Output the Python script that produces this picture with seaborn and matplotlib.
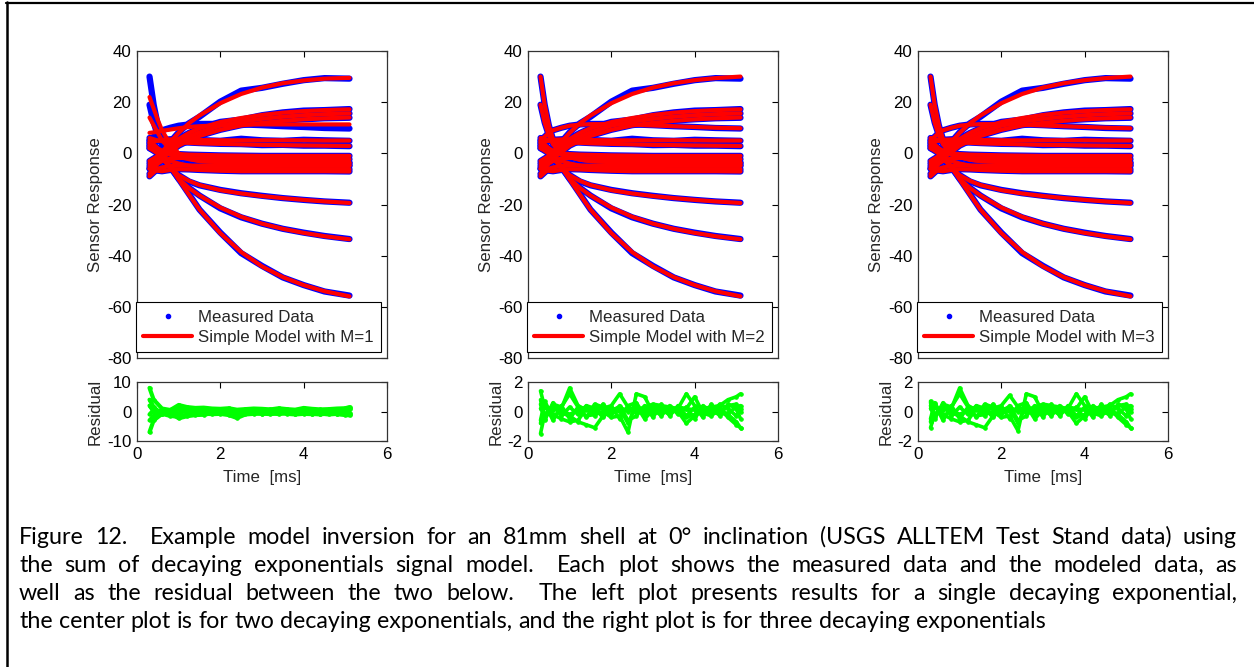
import pandas as pd
import seaborn as sns
import matplotlib.pyplot as plt
from matplotlib.lines import Line2D

# %%    Data
t_ms = [0.3, 0.4, 0.5, 0.6, 0.8, 1.0, 1.25, 1.5, 2.0, 2.5, 3.0, 3.5, 4.0, 4.5, 5.1]

measured = {
    'A': [-5, -3.5, -2, 0.5, 4.5, 8.2, 11.8, 14.3, 20.2, 24.5, 25.6, 27.2, 28.6, 29.4, 29.2],
    'B': [-3, -2, -1, 0.5, 3, 5.8, 8, 9.8, 12.3, 13.2, 14.9, 16, 16.7, 16.9, 17.3],
    'C2': [-4, -3, -2, -0.5, 2, 4.5, 6.5, 8.2, 10.8, 12.5, 13.6, 14.4, 15, 15.3, 15.6],
    'C': [-6, -5, -3.5, -2, 0.5, 3, 5, 6.8, 9.2, 11, 12, 12.8, 13.3, 13.7, 13.9],
    'D': [5, 6.5, 8, 9, 10, 10.8, 11.3, 11.5, 11.5, 11.3, 11, 10.6, 10.3, 9.9, 9.7],
    'P5': [4, 4.5, 5, 5.3, 5.5, 5.5, 5.3, 5.2, 4.9, 5.7, 5.1, 4.9, 5.3, 5.1, 4.9],
    'P3': [6, 5.5, 5, 4.8, 4.5, 4.3, 4.2, 4.0, 3.7, 3.6, 3.2, 3.3, 3.0, 3.0, 2.8],
    'N1': [2, 1.5, 1, 0.5, 0, -0.3, -0.5, -0.6, -0.8, -0.9, -1, -1, -1, -1, -1],
    'N2': [-8, -6, -4, -3, -2, -1.8, -1.8, -2, -2.1, -2.2, -2.2, -2.3, -2.3, -2.3, -2.3],
    'N3': [5, 3.5, 2, 1, -0.5, -1.5, -2.2, -2.7, -3.1, -3.3, -3.4, -3.5, -3.6, -3.6, -3.6],
    'N4': [-9, -7.5, -6, -5.5, -5, -4.8, -4.8, -4.8, -4.8, -4.9, -4.9, -4.9, -4.9, -4.9, -4.9],
    'N5': [3, 1.5, 0, -1.5, -3, -4, -4.8, -5.3, -5.8, -6, -6.1, -6.2, -6.2, -6.2, -6.2],
    'N6': [-6, -6.5, -6.8, -7, -6.5, -6.2, -6.3, -6.5, -6.8, -7, -7, -7, -7, -7, -7.1],
    'H': [30, 19, 11, 5.5, 0.5, -1.5, -2.5, -3, -3.3, -3.5, -3.6, -3.7, -3.8, -3.8, -3.8],
    'I': [19, 12, 7, 3.5, 0, -1.5, -2.5, -3, -3.5, -4, -4.2, -4.4, -4.5, -4.6, -4.6],
    'E': [3, 1.5, 0, -2, -5.5, -8.5, -11, -12.5, -14.3, -15.6, -16.6, -17.5, -18.2, -18.8, -19.3],
    'F': [4, 2.5, 1, -1, -5.5, -10, -13.5, -16.5, -21.5, -25, -27.5, -29.5, -31, -32.3, -33.5],
    'G': [2, 1, 0, -1.5, -5, -10, -16, -22, -31, -39, -44, -48.5, -51.5, -54, -55.6],
}

# model with M=2 and M=3 (the two are indistinguishable at this scale)
fit_m2 = {
    'A': [-5, -3.5, -1.5, 0.5, 4.5, 8, 11.8, 14.8, 19.6, 23.2, 25.7, 27.4, 28.6, 29.4, 30],
    'B': [-3, -2, -1, 0.5, 3, 5.6, 8, 9.8, 12.2, 13.8, 15, 15.9, 16.5, 16.9, 17.2],
    'C2': [-4, -3, -2, -0.5, 2, 4.5, 6.5, 8.2, 10.8, 12.4, 13.5, 14.3, 14.9, 15.3, 15.6],
    'C': [-6, -5, -3.5, -2, 0.5, 3, 5, 6.8, 9.2, 10.9, 11.9, 12.7, 13.3, 13.7, 14.0],
    'D': [5, 6.5, 8, 9, 10, 10.8, 11.2, 11.4, 11.4, 11.2, 10.9, 10.6, 10.3, 10, 9.8],
    'P5': [4.2, 4.6, 5, 5.3, 5.4, 5.4, 5.3, 5.2, 5.1, 5.1, 5.1, 5.1, 5.1, 5.0, 5.0],
    'P3': [6, 5.5, 5, 4.8, 4.5, 4.3, 4.1, 3.9, 3.7, 3.5, 3.3, 3.2, 3.1, 3.0, 2.9],
    'N1': [2, 1.5, 1, 0.5, 0, -0.3, -0.5, -0.6, -0.8, -0.9, -1, -1, -1, -1, -1],
    'N2': [-8, -6, -4, -3, -2, -1.8, -1.8, -2, -2.1, -2.2, -2.2, -2.3, -2.3, -2.3, -2.3],
    'N3': [5, 3.5, 2, 1, -0.5, -1.5, -2.2, -2.7, -3.1, -3.3, -3.4, -3.5, -3.6, -3.6, -3.6],
    'N4': [-9, -7.5, -6, -5.5, -5, -4.8, -4.8, -4.8, -4.8, -4.9, -4.9, -4.9, -4.9, -4.9, -4.9],
    'N5': [3, 1.5, 0, -1.5, -3, -4, -4.8, -5.3, -5.8, -6, -6.1, -6.2, -6.2, -6.2, -6.2],
    'N6': [-6, -6.5, -6.8, -7, -6.5, -6.2, -6.3, -6.5, -6.8, -7, -7, -7, -7, -7, -7.1],
    'H': [30, 19, 11, 5.5, 0.5, -1.5, -2.5, -3, -3.3, -3.5, -3.6, -3.7, -3.8, -3.8, -3.8],
    'I': [19, 12, 7, 3.5, 0, -1.5, -2.5, -3, -3.5, -4, -4.2, -4.4, -4.5, -4.6, -4.6],
    'E': [3, 1.5, 0, -2, -5.5, -8.6, -10.8, -12.4, -14.4, -15.7, -16.7, -17.5, -18.2, -18.8, -19.4],
    'F': [4, 2.5, 1, -1, -5.5, -10, -13.6, -16.5, -21.2, -24.8, -27.5, -29.5, -31.1, -32.4, -33.6],
    'G': [2, 1, 0, -1.5, -5, -10.2, -16.2, -22, -31.2, -38.6, -44.2, -48.4, -51.5, -53.9, -55.9],
}

# curves where the single-exponential model (M=1) visibly departs from M=2
fit_m1_changes = {
    'A': [-5, -3.5, -1.5, 0.5, 4.5, 8, 11.8, 14.8, 19.6, 23.2, 25.7, 27.4, 28.5, 29.2, 29.5],
    'H': [22, 17.5, 13, 9, 3.5, 0, -2, -3, -3.4, -3.5, -3.6, -3.7, -3.8, -3.8, -3.8],
    'I': [14, 11, 8, 5, 1.5, -1, -2.3, -3, -3.5, -4, -4.2, -4.4, -4.5, -4.6, -4.6],
    'D': [8, 8.2, 8.5, 8.8, 9.3, 9.8, 10.3, 10.6, 11, 11.2, 11.3, 11.3, 11.3, 11.3, 11.3],
}

t_res = [0.3, 0.4, 0.6, 0.8, 1.0, 1.2, 1.4, 1.6, 1.8, 2.0, 2.2, 2.4, 2.6,
         2.8, 3.0, 3.2, 3.4, 3.6, 3.8, 4.0, 4.2, 4.4, 4.6, 4.8, 5.0, 5.1]

res_m1 = [
    [8, 4, 1, 0.5, 1.5, 1, 0.8, 0.6, 0.4, 0.5, 0.3, 0.2, 0.5, 0.4, 0.3, 0.6, 0.4, 0.3, 0.5, 0.6, 0.3, 0.2, 0.4, 0.5, 0.8, 1.2],
    [-7, -3, -0.8, -1.5, -1.8, -1, -0.8, -0.7, -0.9, -0.8, -1.2, -2.2, -1, -0.8, -0.7, -0.9, -0.6, -0.8, -1, -0.8, -0.9, -0.7, -1, -0.8, -0.9, -1],
    [4, 1.5, -1, 0.5, 2.2, 1.5, 1.2, 1.3, 1.0, 0.9, 1.1, 0.6, 0.8, 1.0, 0.9, 0.7, 1.1, 0.8, 0.6, 1.2, 0.9, 0.7, 0.8, 1.0, 1.1, 1.5],
    [-3, -1.5, 0.5, -0.5, -2.3, -1.6, -1.2, -1.1, -0.6, -0.5, -0.8, -1.5, -0.5, -0.4, -0.8, -0.5, -0.9, -0.3, -0.7, -0.5, -0.8, -1.0, -0.6, -0.9, -1.2, -1.3],
    [2, 0, 0.3, 0.2, 0.8, 0.1, -0.3, 0.2, 0.3, -0.2, 0.0, -1, 0.2, -0.1, 0.3, 0.1, -0.2, 0.2, 0.0, -0.3, 0.3, 0.1, -0.2, 0.2, 0.4, 0.8],
    [-1, 0.5, -0.3, -0.2, -0.6, 0.3, 0.4, -0.3, 0.1, 0.3, -0.4, -0.5, -0.3, 0.4, -0.2, 0.4, 0.3, -0.4, 0.2, 0.1, -0.3, 0.4, 0.3, -0.3, -0.4, -0.5],
]

res_m2 = [
    [1.4, 0.3, 0.1, 0.2, 1.6, 0.4, 0.1, 0.0, -0.1, 0.1, 0.3, 0.0, 0.2, 0.1, 0.3, 0.2, 0.0, 0.1, 0.2, 0.1, 0.0, -0.1, 0.1, -0.2, -0.7, -1.1],
    [-1.5, -0.2, 0.4, -0.1, -0.3, -0.7, -0.9, -1.1, -0.3, 0.1, 0.0, 0.2, -0.1, 0.0, -0.2, 0.1, 0.2, 0.0, -0.8, -0.3, 0.1, 0.0, -0.2, -0.1, 0.3, 0.4],
    [0.8, -0.5, 0.5, 0.3, 1.2, 0.3, 0.2, 0.3, 0.2, 0.4, 1.2, 0.3, 0.1, 0.3, 0.5, 0.4, 0.3, 0.2, 1.2, 0.4, 0.2, 0.3, 0.4, 0.8, 1.0, 1.2],
    [-0.6, 0.7, -0.4, 0.1, -0.2, 0.1, -0.3, -0.2, 0.0, -0.4, -0.3, -1.4, 1.2, 1.0, -0.1, 0.1, -0.2, 0.3, 0.2, 1.0, -0.1, -0.3, 0.2, -0.4, -0.9, -1.1],
    [0.5, -0.6, 0.6, -0.3, 0.3, -0.2, 0.4, 0.2, -0.4, 0.3, -0.5, 0.4, 0.6, -0.3, 0.2, -0.3, 0.4, -0.2, 0.3, -0.5, 0.4, -0.2, 0.5, 0.2, -0.3, 0.2],
    [-0.8, 0.5, -0.6, 0.4, -0.5, 0.3, -0.4, 0.5, 0.3, -0.2, 0.4, -0.6, -0.3, 0.4, -0.4, 0.5, -0.3, 0.4, -0.3, 0.3, -0.4, 0.5, -0.3, 0.5, 0.2, -0.5],
    [0.2, 0.3, -0.2, -0.5, -0.7, -0.6, 0.2, -0.3, 0.5, -0.1, 0.2, -0.8, 0.4, -0.5, 0.1, -0.2, 0.3, 0.1, -0.4, -0.2, 0.3, 0.2, 0.0, 0.4, 0.5, 0.0],
]

res_m3 = [
    [0.7, 0.3, 0.1, 0.2, 1.6, 0.4, 0.1, 0.0, -0.1, 0.1, 0.3, 0.0, 0.2, 0.1, 0.3, 0.2, 0.0, 0.1, 0.2, 0.1, 0.0, -0.1, 0.1, -0.2, -0.7, -1.1],
    [-1.1, -0.2, 0.4, -0.1, -0.3, -0.7, -0.9, -1.1, -0.3, 0.1, 0.0, 0.2, -0.1, 0.0, -0.2, 0.1, 0.2, 0.0, -0.8, -0.3, 0.1, 0.0, -0.2, -0.1, 0.3, 0.4],
    [0.6, -0.4, 0.5, 0.3, 1.2, 0.3, 0.2, 0.3, 0.2, 0.4, 1.1, 0.3, 0.1, 0.3, 0.5, 0.4, 0.3, 0.2, 1.2, 0.4, 0.2, 0.3, 0.4, 0.8, 1.0, 1.2],
    [-0.5, 0.6, -0.4, 0.1, -0.2, 0.1, -0.3, -0.2, 0.0, -0.4, -0.3, -1.3, 1.2, 1.0, -0.1, 0.1, -0.2, 0.3, 0.2, 1.0, -0.1, -0.3, 0.2, -0.4, -0.9, -1.1],
    [0.4, -0.5, 0.6, -0.3, 0.3, -0.2, 0.4, 0.2, -0.4, 0.3, -0.5, 0.4, 0.6, -0.3, 0.2, -0.3, 0.4, -0.2, 0.3, -0.5, 0.4, -0.2, 0.5, 0.2, -0.3, 0.2],
    [-0.7, 0.5, -0.6, 0.4, -0.5, 0.3, -0.4, 0.5, 0.3, -0.2, 0.4, -0.6, -0.3, 0.4, -0.4, 0.5, -0.3, 0.4, -0.3, 0.3, -0.4, 0.5, -0.3, 0.5, 0.2, -0.5],
    [0.2, 0.3, -0.2, -0.5, -0.7, -0.6, 0.2, -0.3, 0.5, -0.1, 0.2, -0.8, 0.4, -0.5, 0.1, -0.2, 0.3, 0.1, -0.4, -0.2, 0.3, 0.2, 0.0, 0.4, 0.5, 0.0],
]

res_ticks = [[-10, 0, 10], [-2, 0, 2], [-2, 0, 2]]

caption = [
    'Figure 12.  Example model inversion for an 81mm shell at 0\u00b0 inclination (USGS ALLTEM Test Stand data) using',
    'the sum of decaying exponentials signal model.  Each plot shows the measured data and the modeled data, as',
    'well as the residual between the two below.  The left plot presents results for a single decaying exponential,',
    'the center plot is for two decaying exponentials, and the right plot is for three decaying exponentials',
]


# %%    Long-form tables
def curves_to_df(curves, t):
    rows = []
    for name, vals in curves.items():
        for ti, v in zip(t, vals):
            rows.append((name, ti, v))
    return pd.DataFrame(rows, columns=['curve', 'time', 'value'])


meas_df = curves_to_df(measured, t_ms)
fit_m1 = dict(fit_m2)
fit_m1.update(fit_m1_changes)
fit_dfs = [curves_to_df(fit_m1, t_ms), curves_to_df(fit_m2, t_ms), curves_to_df(fit_m2, t_ms)]
res_dfs = [curves_to_df(dict(enumerate(r)), t_res) for r in (res_m1, res_m2, res_m3)]


# %%    Plot
sns.set_style('white')
plt.rcParams['font.family'] = ['Liberation Sans', 'DejaVu Sans']
plt.rcParams['axes.unicode_minus'] = False

W, H = 1254, 667
FS = 12.2
fig = plt.figure(figsize=(W / 100, H / 100), dpi=100)
lefts = [137, 528, 918]


def style_axes(ax):
    ax.tick_params(direction='in', length=4, width=0.8, top=True, right=True,
                   labelsize=FS, pad=4, colors='black')
    for sp in ax.spines.values():
        sp.set_color('#333333')
        sp.set_linewidth(0.9)
        sp.set_visible(True)


for i, left in enumerate(lefts):
    ax = fig.add_axes([left / W, 1 - 358 / H, 250 / W, 307 / H])
    sns.lineplot(data=meas_df, x='time', y='value', units='curve', estimator=None, sort=False,
                 color='#0000FF', lw=4.5, ax=ax, legend=False)
    sns.lineplot(data=fit_dfs[i], x='time', y='value', units='curve', estimator=None, sort=False,
                 color='#FF0000', lw=3, ax=ax, legend=False)
    ax.set_xlim(0, 6)
    ax.set_ylim(-80, 40)
    ax.set_xticks([0, 2, 4, 6])
    ax.set_xticklabels([])
    ax.set_yticks(range(-80, 41, 20))
    ax.set_xlabel('')
    ax.set_ylabel('Sensor Response', fontsize=FS, labelpad=3)
    style_axes(ax)
    handles = [Line2D([], [], color='#0000FF', marker='o', ms=3, ls='none'),
               Line2D([], [], color='#FF0000', lw=3)]
    leg = ax.legend(handles, ['Measured Data', f'Simple Model with M={i + 1}'],
                    loc='lower right', fontsize=FS, fancybox=False, framealpha=1,
                    edgecolor='black', handlelength=2.9, handletextpad=0.35,
                    labelspacing=0.32, borderpad=0.42, borderaxespad=0.35)
    leg.get_frame().set_linewidth(0.8)

    rax = fig.add_axes([left / W, 1 - 441 / H, 250 / W, 59 / H])
    sns.lineplot(data=res_dfs[i], x='time', y='value', units='curve', estimator=None, sort=False,
                 color='#00FF00', lw=3.0 if i == 0 else 2.6, marker='o', ms=2.5, mec='#00FF00',
                 ax=rax, legend=False)
    lim = res_ticks[i][-1]
    rax.set_xlim(0, 6)
    rax.set_ylim(-lim, lim)
    rax.set_xticks([0, 2, 4, 6])
    rax.set_yticks(res_ticks[i])
    rax.set_xlabel('Time  [ms]', fontsize=FS, labelpad=6)
    rax.set_ylabel('Residual', fontsize=FS, labelpad=3)
    style_axes(rax)

# frame lines on the left and top of the figure
fig.add_artist(Line2D([6.5 / W, 6.5 / W], [0, 1 - 2 / H], transform=fig.transFigure,
                      color='black', lw=1.8))
fig.add_artist(Line2D([5.5 / W, 1], [1 - 2.5 / H, 1 - 2.5 / H], transform=fig.transFigure,
                      color='black', lw=1.6))

# caption, justified like the original paragraph
renderer = fig.canvas.get_renderer()
cap_font = ['Lato', 'DejaVu Sans']


def text_width(s, size):
    t = fig.text(0, 0, s, family=cap_font, fontsize=size)
    w = t.get_window_extent(renderer).width
    t.remove()
    return w


cap_size = 10 * 1025 / text_width(caption[3], 10)
space_w = text_width('a a', cap_size) - text_width('aa', cap_size)
cap_y = [537, 565, 593, 621]
x_left, x_right = 19, 1237
for k, line in enumerate(caption):
    words = line.split(' ')
    widths = [text_width(w, cap_size) if w else 0 for w in words]
    if k < 3:
        gap = (x_right - x_left - sum(widths)) / (len(words) - 1)
    else:
        gap = space_w
    x = x_left
    for w, wd in zip(words, widths):
        if w:
            fig.text(x / W, 1 - cap_y[k] / H, w, family=cap_font, fontsize=cap_size,
                     va='center', ha='left', color='black')
        x += wd + gap

fig.savefig('out.png', dpi=100)
